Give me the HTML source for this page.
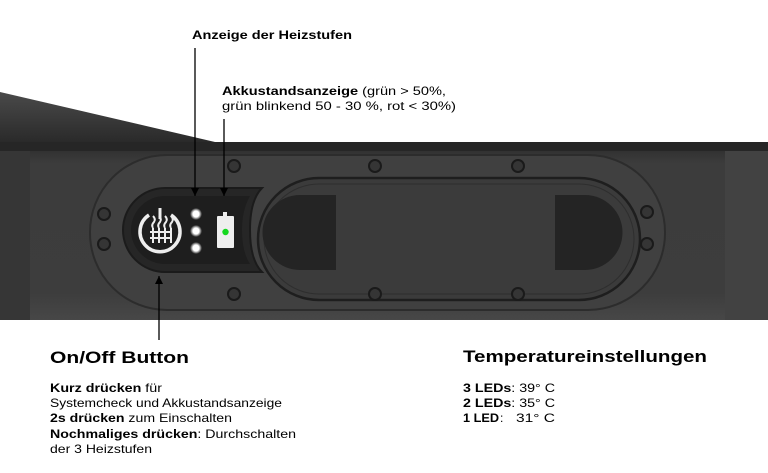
<!DOCTYPE html>
<html><head><meta charset="utf-8"><style>html,body{margin:0;padding:0;background:#fff}svg{display:block}</style></head>
<body>
<svg width="768" height="473" viewBox="0 0 768 473" xmlns="http://www.w3.org/2000/svg" font-family="Liberation Sans, DejaVu Sans, sans-serif">
<defs>
<linearGradient id="band" x1="0" y1="0" x2="0" y2="1">
<stop offset="0" stop-color="#2a2a2a"/><stop offset="0.12" stop-color="#3c3c3c"/><stop offset="0.85" stop-color="#3d3d3d"/><stop offset="1" stop-color="#474747"/></linearGradient>
<linearGradient id="wedge" x1="0" y1="0" x2="0" y2="1"><stop offset="0" stop-color="#4a4a4a"/><stop offset="1" stop-color="#2a2a2a"/></linearGradient>
<radialGradient id="led"><stop offset="0" stop-color="#fff"/><stop offset="0.5" stop-color="#fff"/><stop offset="1" stop-color="#fff" stop-opacity="0"/></radialGradient>
<marker id="ar" markerWidth="8" markerHeight="8" refX="8" refY="4" orient="auto" markerUnits="userSpaceOnUse"><path d="M0,0 L8,4 L0,8 Z" fill="#000"/></marker>
</defs>
<path d="M0,92 L215,142 L0,142 Z" fill="url(#wedge)"/>
<rect x="0" y="142" width="768" height="178" fill="url(#band)"/>
<rect x="0" y="142" width="768" height="9" fill="#262626"/>
<rect x="0" y="151" width="30" height="169" fill="#363636"/>
<rect x="725" y="151" width="43" height="169" fill="#424242"/>
<rect x="90" y="155" width="575" height="155" rx="77" fill="#404040" stroke="#2c2c2c" stroke-width="2"/>
<rect x="258" y="178" width="382" height="122" rx="61" fill="#3b3b3b" stroke="#1e1e1e" stroke-width="2.5"/>
<rect x="264" y="184" width="370" height="110" rx="55" fill="none" stroke="#2e2e2e" stroke-width="1"/>
<path d="M336,195 L300,195 A36,36 0 0 0 300,270 L336,270 Z" fill="#242424"/>
<path d="M555,195 L585,195 A37,37 0 0 1 585,270 L555,270 Z" fill="#242424"/>
<path d="M165,188 L262,188 Q250,200 250,230 Q250,260 262,272 L165,272 A42,42 0 0 1 165,188 Z" fill="#262626" stroke="#1b1b1b" stroke-width="2"/>
<path d="M165,196 L250,196 Q242,210 242,230 Q242,252 250,264 L165,264 A34,34 0 0 1 165,196 Z" fill="#1e1e1e"/>
<path d="M149,215 A20,20 0 1 0 171,215" fill="none" stroke="#eee" stroke-width="3.5"/>
<line x1="160" y1="208" x2="160" y2="219" stroke="#eee" stroke-width="3"/>
<g stroke="#eee" stroke-width="2" fill="none">
<path d="M150,238 L172,238 M150,232 L172,232"/>
<path d="M153,228 q-2,-3 1,-6 q2,-3 -1,-6 M153,228 L153,243"/>
<path d="M159,228 q-2,-3 1,-6 q2,-3 -1,-6 M159,228 L159,243"/>
<path d="M165,228 q-2,-3 1,-6 q2,-3 -1,-6 M165,228 L165,243"/>
<path d="M171,228 q-2,-3 1,-6 q2,-3 -1,-6 M171,228 L171,243"/>
</g>
<circle cx="196" cy="214" r="6" fill="url(#led)"/><circle cx="196" cy="231" r="6" fill="url(#led)"/><circle cx="196" cy="248" r="6" fill="url(#led)"/>
<rect x="223" y="212" width="4" height="4" fill="#eee"/>
<rect x="217" y="216" width="17" height="32" rx="1" fill="#eee"/>
<circle cx="225.5" cy="232" r="3.2" fill="#14d81e"/>
<g fill="#353535" stroke="#1a1a1a" stroke-width="2">
<circle cx="234" cy="166" r="6"/><circle cx="375" cy="166" r="6"/><circle cx="518" cy="166" r="6"/>
<circle cx="234" cy="294" r="6"/><circle cx="375" cy="294" r="6"/><circle cx="518" cy="294" r="6"/>
<circle cx="104" cy="214" r="6"/><circle cx="104" cy="244" r="6"/>
<circle cx="647" cy="212" r="6"/><circle cx="647" cy="244" r="6"/>
</g>
<line x1="195" y1="48" x2="195" y2="196" stroke="#000" stroke-width="1.3" marker-end="url(#ar)"/>
<line x1="224" y1="119" x2="224" y2="196" stroke="#000" stroke-width="1.3" marker-end="url(#ar)"/>
<line x1="159" y1="340" x2="159" y2="276" stroke="#000" stroke-width="1.3" marker-end="url(#ar)"/>
<text x="192" y="39" font-size="12" font-weight="bold" textLength="160" lengthAdjust="spacingAndGlyphs">Anzeige der Heizstufen</text>
<text x="222" y="95" font-size="12" textLength="224" lengthAdjust="spacingAndGlyphs"><tspan font-weight="bold">Akkustandsanzeige</tspan> (grün &gt; 50%,</text>
<text x="222" y="110" font-size="12" textLength="234" lengthAdjust="spacingAndGlyphs">grün blinkend 50 - 30 %, rot &lt; 30%)</text>
<text x="50" y="363" font-size="17" font-weight="bold" textLength="139" lengthAdjust="spacingAndGlyphs">On/Off Button</text>
<g font-size="12">
<text x="50" y="392" textLength="112" lengthAdjust="spacingAndGlyphs"><tspan font-weight="bold">Kurz drücken</tspan> für</text>
<text x="50" y="407" textLength="232" lengthAdjust="spacingAndGlyphs">Systemcheck und Akkustandsanzeige</text>
<text x="50" y="422" textLength="182" lengthAdjust="spacingAndGlyphs"><tspan font-weight="bold">2s drücken</tspan> zum Einschalten</text>
<text x="50" y="438" textLength="246" lengthAdjust="spacingAndGlyphs"><tspan font-weight="bold">Nochmaliges drücken</tspan>: Durchschalten</text>
<text x="50" y="453" textLength="102" lengthAdjust="spacingAndGlyphs">der 3 Heizstufen</text>
</g>
<text x="463" y="362" font-size="17" font-weight="bold" textLength="244" lengthAdjust="spacingAndGlyphs">Temperatureinstellungen</text>
<g font-size="12">
<text x="463" y="392" textLength="92" lengthAdjust="spacingAndGlyphs"><tspan font-weight="bold">3 LEDs</tspan>: 39° C</text>
<text x="463" y="407" textLength="92" lengthAdjust="spacingAndGlyphs"><tspan font-weight="bold">2 LEDs</tspan>: 35° C</text>
<text x="463" y="422" font-weight="bold" textLength="36" lengthAdjust="spacingAndGlyphs">1 LED</text><text x="500" y="422">:</text><text x="516" y="422" textLength="39" lengthAdjust="spacingAndGlyphs">31° C</text>
</g>
</svg>
</body></html>
